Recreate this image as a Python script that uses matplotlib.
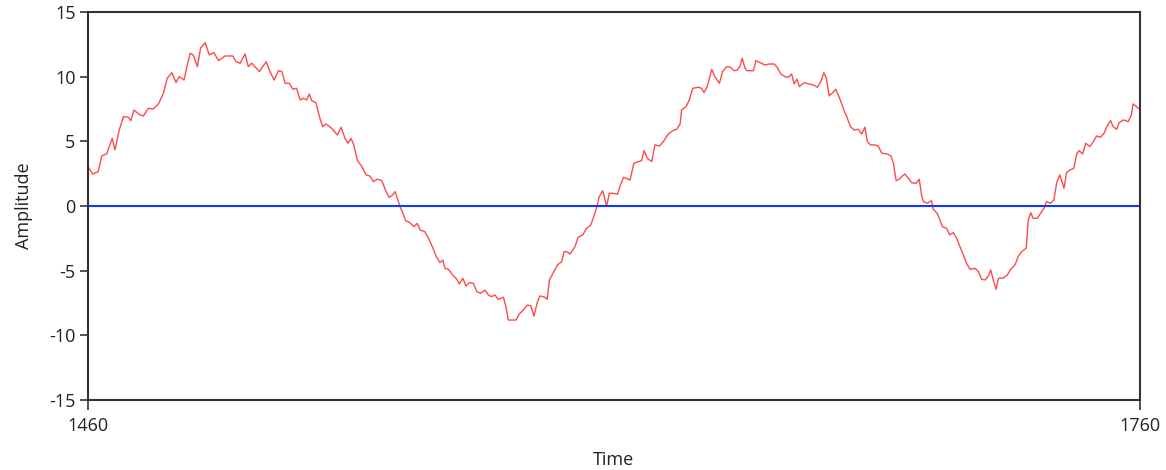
import matplotlib
matplotlib.use("Agg")
import matplotlib.pyplot as plt

# signal, (time, amplitude)
TIME = [
    1460.0, 1461.3, 1462.9, 1463.9, 1465.3, 1466.9, 1467.7, 1468.9, 1470.1, 1471.5,
    1472.2, 1473.1, 1474.8, 1475.8, 1477.2, 1478.6, 1480.1, 1481.5, 1482.6, 1483.9,
    1485.1, 1486.0, 1487.4, 1488.2, 1489.1, 1490.0, 1491.2, 1492.1, 1493.4, 1494.6,
    1495.9, 1497.2, 1499.1, 1501.3, 1502.2, 1503.4, 1504.8, 1505.7, 1506.7, 1507.6,
    1508.9, 1510.8, 1511.9, 1513.1, 1514.3, 1515.3, 1516.2, 1517.4, 1518.4, 1519.5,
    1520.5, 1521.4, 1522.4, 1523.1, 1523.8, 1525.0, 1526.0, 1526.9, 1527.9, 1529.5,
    1531.1, 1532.2, 1533.3, 1534.2, 1535.0, 1535.8, 1536.8, 1538.1, 1539.3, 1540.4,
    1541.4, 1542.5, 1543.8, 1545.0, 1545.9, 1546.9, 1547.6, 1548.2, 1549.0, 1549.8,
    1550.6, 1551.8, 1553.0, 1553.9, 1554.7, 1556.1, 1557.1, 1558.3, 1559.3, 1560.4,
    1561.2, 1561.8, 1562.8, 1564.0, 1565.2, 1565.9, 1566.9, 1567.8, 1568.8, 1569.9,
    1570.9, 1572.0, 1573.2, 1574.2, 1575.1, 1576.1, 1577.0, 1578.5, 1579.2, 1579.9,
    1581.1, 1582.1, 1583.0, 1584.2, 1585.3, 1586.3, 1587.2, 1588.2, 1588.9, 1590.4,
    1591.0, 1591.6, 1592.7, 1593.9, 1595.1, 1595.8, 1596.5, 1597.5, 1598.9, 1599.8,
    1601.1, 1602.2, 1603.4, 1604.1, 1605.1, 1605.8, 1606.8, 1607.5, 1607.9, 1608.7,
    1609.8, 1611.0, 1611.7, 1612.7, 1613.5, 1614.6, 1615.7, 1617.0, 1617.9, 1618.6,
    1619.5, 1620.8, 1621.7, 1623.0, 1624.3, 1625.5, 1626.8, 1627.9, 1628.9, 1629.3,
    1630.6, 1631.5, 1632.5, 1634.1, 1635.0, 1635.7, 1636.6, 1637.9, 1638.8, 1640.1,
    1641.0, 1642.2, 1643.3, 1644.3, 1645.2, 1646.0, 1646.6, 1647.4, 1647.9, 1649.8,
    1650.5, 1651.7, 1653.1, 1654.3, 1655.7, 1656.6, 1657.6, 1658.8, 1659.8, 1660.7,
    1661.4, 1662.2, 1662.9, 1664.3, 1665.5, 1666.9, 1668.0, 1669.0, 1669.9, 1670.6,
    1671.4, 1672.4, 1673.3, 1674.5, 1675.6, 1676.4, 1677.5, 1678.5, 1679.7, 1680.7,
    1681.6, 1682.3, 1683.2, 1684.5, 1685.4, 1686.4, 1688.0, 1689.0, 1689.7, 1690.5,
    1691.4, 1692.1, 1693.0, 1694.0, 1694.9, 1696.2, 1697.1, 1697.8, 1698.3, 1699.4,
    1700.6, 1701.1, 1702.2, 1703.0, 1703.7, 1704.9, 1705.8, 1706.8, 1707.8, 1708.7,
    1709.7, 1710.6, 1711.6, 1713.0, 1714.0, 1714.9, 1715.9, 1716.8, 1717.5, 1718.2,
    1719.0, 1719.7, 1720.9, 1722.2, 1723.2, 1724.4, 1725.4, 1726.3, 1727.6, 1728.2,
    1728.9, 1729.6, 1730.8, 1731.7, 1732.7, 1733.4, 1734.6, 1735.5, 1736.3, 1737.2,
    1738.4, 1739.1, 1740.1, 1741.2, 1742.0, 1742.7, 1743.7, 1744.6, 1745.8, 1746.9,
    1747.7, 1748.8, 1749.8, 1750.7, 1751.7, 1752.4, 1753.4, 1754.1, 1755.3, 1756.7,
    1757.6, 1758.1, 1758.9, 1759.5, 1760.0,
]
AMPLITUDE = [
    3.04, 2.47, 2.65, 3.87, 4.02, 5.23, 4.33, 5.88, 6.91, 6.86,
    6.60, 7.42, 7.04, 6.96, 7.55, 7.50, 7.89, 8.72, 9.88, 10.31,
    9.54, 10.00, 9.74, 10.77, 11.81, 11.68, 10.77, 12.20, 12.63, 11.68,
    11.86, 11.24, 11.60, 11.60, 11.16, 11.04, 11.76, 10.77, 11.04, 10.77,
    10.39, 11.16, 10.39, 9.74, 10.46, 10.39, 9.49, 9.49, 9.03, 9.10,
    8.20, 8.33, 8.20, 8.66, 8.14, 7.99, 6.91, 6.13, 6.34, 6.01,
    5.49, 6.09, 5.23, 4.85, 5.23, 4.72, 3.56, 3.04, 2.40, 2.32,
    1.88, 2.07, 1.96, 1.11, 0.67, 0.85, 1.11, 0.60, -0.05, -0.56,
    -1.14, -1.29, -1.60, -1.34, -1.86, -1.99, -2.50, -3.20, -3.90, -4.38,
    -4.18, -4.82, -4.90, -5.34, -5.67, -6.03, -5.59, -6.19, -5.93, -5.98,
    -6.63, -6.75, -6.50, -6.88, -7.01, -6.88, -7.22, -7.06, -7.79, -8.82,
    -8.82, -8.82, -8.35, -8.04, -7.66, -7.73, -8.51, -7.40, -6.96, -7.06,
    -7.22, -5.72, -5.16, -4.56, -4.30, -3.53, -3.53, -3.71, -3.14, -2.42,
    -2.24, -1.73, -1.47, -0.95, -0.10, 0.72, 1.18, 0.46, -0.05, 0.98,
    0.98, 0.90, 1.49, 2.22, 2.14, 2.01, 3.30, 3.43, 3.50, 4.28,
    3.69, 3.43, 4.72, 4.64, 5.05, 5.57, 5.82, 5.93, 6.34, 7.42,
    7.68, 8.20, 9.10, 9.18, 9.10, 8.76, 9.23, 10.57, 10.00, 9.49,
    10.39, 10.77, 10.72, 10.46, 10.51, 10.83, 11.42, 10.65, 10.46, 10.46,
    11.24, 11.08, 10.90, 10.98, 10.98, 10.72, 10.21, 10.00, 9.95, 10.21,
    9.44, 9.80, 9.23, 9.54, 9.44, 9.36, 9.18, 9.61, 10.31, 9.88,
    8.51, 8.76, 9.03, 8.25, 7.42, 6.91, 6.13, 5.88, 5.93, 5.57,
    6.09, 4.97, 4.72, 4.72, 4.64, 4.08, 4.02, 3.87, 3.35, 1.96,
    2.07, 2.27, 2.47, 2.14, 1.80, 1.75, 2.07, 0.77, 0.33, 0.21,
    0.41, -0.26, -0.56, -1.08, -1.60, -1.73, -2.24, -2.06, -2.50, -3.14,
    -3.79, -4.43, -4.90, -4.82, -5.08, -5.67, -5.72, -5.41, -4.95, -5.72,
    -6.44, -5.59, -5.59, -5.34, -4.90, -4.56, -3.87, -3.53, -3.27, -1.08,
    -0.52, -0.95, -0.95, -0.56, -0.18, 0.33, 0.21, 0.46, 1.80, 2.40,
    1.37, 2.58, 2.78, 2.92, 4.02, 4.28, 4.02, 4.85, 4.59, 5.05,
    5.41, 5.31, 5.62, 6.19, 6.60, 6.13, 5.93, 6.44, 6.65, 6.52,
    7.04, 7.89, 7.73, 7.56, 7.50,
]
# blue reference line
ZERO_TIME = [1460, 1760]
ZERO_LEVEL = [0, 0]

X_TICKS = [1460, 1760]
Y_TICKS = [-15, -10, -5, 0, 5, 10, 15]

FONT = ["Open Sans", "DejaVu Sans"]


def main():
    plt.rcParams["font.family"] = FONT
    plt.rcParams["font.size"] = 13
    plt.rcParams["axes.unicode_minus"] = False

    fig = plt.figure(figsize=(11.66, 4.70), dpi=100)
    ax = fig.add_axes([0.0755, 0.149, 0.902, 0.8255])

    ax.plot(TIME, AMPLITUDE, color="#ff4a4a", linewidth=1.0)
    ax.plot(ZERO_TIME, ZERO_LEVEL, color="#1038ff", linewidth=1.5)

    ax.set_xlim(1460, 1760)
    ax.set_ylim(-15, 15)
    ax.set_xticks(X_TICKS)
    ax.set_yticks(Y_TICKS)
    ax.tick_params(direction="out", length=6, width=1.2, color="#333333",
                   labelcolor="#222222", pad=3)
    ax.tick_params(axis="x", length=7, pad=5)

    for s in ax.spines.values():
        s.set_color("#333333")
        s.set_linewidth(1.5)

    ax.set_xlabel("Time", color="#222222")
    ax.set_ylabel("Amplitude", color="#222222")
    ax.xaxis.set_label_coords(0.5, -0.132)
    ax.yaxis.set_label_coords(-0.052, 0.5)

    fig.savefig("out.png", dpi=100)


if __name__ == '__main__':
    main()
